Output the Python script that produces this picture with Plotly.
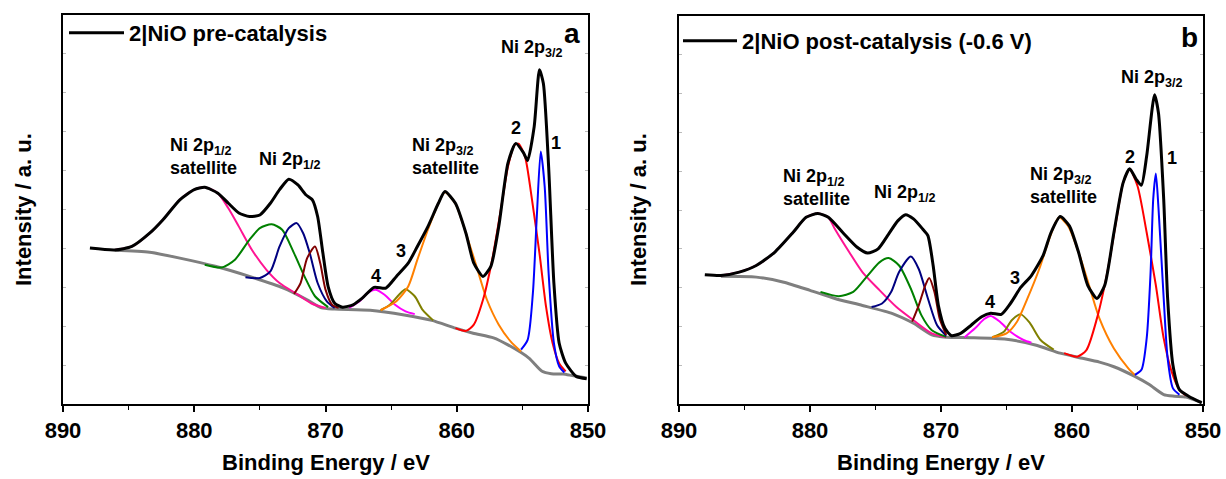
import plotly.graph_objects as go

# ---------------- Panel a : 2|NiO pre-catalysis ----------------
A_TOTAL_E = [887.95, 886.06, 884.75, 883.4, 882.4, 881.1, 880.0, 879.2, 878.2, 877.4, 876.6, 875.8, 875.0,
             874.2, 873.5, 872.8, 872.1, 871.5, 871.0, 870.6, 870.2, 869.8, 869.3, 868.7, 867.9, 867.2,
             866.3, 865.4, 864.6, 863.7, 863.0, 862.2, 861.4, 860.9, 860.1, 859.3, 858.7, 858.0, 857.4,
             856.8, 856.1, 855.5, 854.9, 854.6, 854.1, 853.7, 853.4, 853.0, 852.6, 852.2, 851.7, 850.9, 850.1]
A_TOTAL_I = [40.1, 39.6, 40.5, 43.9, 47.3, 52.5, 55.1, 55.7, 54.2, 51.6, 49.1, 48.2, 48.6,
             51.6, 55.1, 57.8, 56.3, 53.8, 52.5, 48.2, 38.8, 30.2, 25.9, 24.9, 25.5, 27.2,
             30.0, 29.8, 32.8, 36.2, 40.5, 45.6, 51.6, 54.6, 51.6, 43.9, 36.2, 32.8, 35.4,
             45.6, 61.9, 67.0, 64.5, 62.6, 71.3, 85.9, 82.4, 61.0, 31.1, 15.7, 10.5, 7.1, 6.5]
A_BG_E = [886.06, 883.4, 881.1, 878.4, 875.8, 873.2, 871.4, 870.3, 869.3, 866.6, 864.0, 861.9, 860.1,
          858.75, 857.2, 856.1, 854.5, 853.5, 852.8, 851.9, 851.2, 850.1]
A_BG_I = [39.5, 39.0, 37.5, 35.4, 32.8, 29.8, 26.8, 24.7, 24.4, 24.1, 22.9, 21.5, 19.5,
          18.2, 17.0, 15.2, 11.8, 8.4, 7.8, 7.7, 7.3, 6.7]
A_SAT12_E = [886.06, 884.75, 883.4, 882.4, 881.1, 880.0, 879.2, 878.2, 877.4, 876.6, 875.6, 874.5, 873.5, 872.1, 871.1, 870.0]
A_SAT12_I = [39.6, 40.5, 43.9, 47.3, 52.5, 55.1, 55.7, 54.2, 50.3, 45.6, 39.6, 34.5, 31.1, 28.1, 25.9, 24.7]
A_P12A_E = [879.2, 877.9, 876.9, 875.8, 875.0, 874.1, 873.3, 872.4, 871.6, 870.8, 869.8]
A_P12A_I = [35.8, 35.1, 37.1, 42.2, 45.2, 46.2, 44.8, 38.8, 32.8, 27.7, 24.9]
A_P12B_E = [876.1, 875.0, 874.2, 873.5, 872.8, 872.2, 871.7, 871.2, 870.6, 869.9, 869.3]
A_P12B_I = [32.6, 32.4, 34.1, 40.5, 45.2, 46.5, 43.9, 38.8, 31.1, 26.4, 24.7]
A_P12C_E = [872.4, 871.9, 871.4, 870.8, 870.4, 870.0, 869.5, 869.0]
A_P12C_I = [28.3, 31.1, 37.5, 40.5, 36.2, 29.4, 25.5, 24.7]
A_P4_E = [868.2, 867.4, 866.8, 866.2, 865.5, 864.7, 863.9, 863.2]
A_P4_I = [24.7, 26.4, 28.5, 29.4, 28.1, 25.5, 23.8, 23.1]
A_P3_E = [865.8, 865.1, 864.4, 863.9, 863.2, 862.6, 861.8]
A_P3_I = [24.1, 25.5, 28.1, 29.5, 27.7, 24.2, 21.5]
A_SAT32_E = [865.8, 864.6, 863.7, 863.0, 862.2, 861.4, 860.9, 860.1, 859.3, 858.5, 857.7, 856.8, 855.9, 855.1]
A_SAT32_I = [24.1, 26.4, 30.2, 37.1, 44.8, 51.6, 54.4, 51.5, 43.9, 35.4, 26.8, 20.4, 16.1, 13.5]
A_P2_E = [860.1, 859.3, 858.7, 858.0, 857.3, 856.6, 856.1, 855.6, 855.3, 854.8, 854.3, 853.7, 853.2, 852.7, 852.2, 851.7]
A_P2_I = [19.5, 18.8, 20.4, 26.8, 37.1, 50.8, 61.0, 66.6, 66.9, 63.6, 53.3, 38.8, 25.1, 15.7, 10.5, 8.4]
A_P1_E = [855.1, 854.6, 854.2, 853.9, 853.6, 853.3, 853.0, 852.6, 852.2, 851.8]
A_P1_I = [14.0, 16.5, 28.5, 48.2, 64.9, 55.9, 33.6, 15.7, 9.7, 8.1]

# ---------------- Panel b : 2|NiO post-catalysis (-0.6 V) ----------------
B_TOTAL_E = [888.03, 886.8, 885.4, 884.1, 882.7, 881.3, 880.3, 879.4, 878.6, 877.5, 876.4, 875.6, 874.8,
             874.0, 873.3, 872.7, 872.1, 871.4, 871.0, 870.6, 870.2, 869.7, 869.2, 868.5, 867.7, 866.9,
             866.2, 865.4, 864.7, 863.9, 863.1, 862.2, 861.6, 860.9, 860.2, 859.5, 858.8, 858.1, 857.5,
             856.8, 856.1, 855.6, 855.1, 854.7, 854.3, 853.7, 853.4, 853.0, 852.7, 852.3, 851.8, 851.1, 850.1]
B_TOTAL_I = [33.3, 33.1, 34.0, 35.7, 39.1, 44.2, 48.1, 49.1, 48.1, 44.2, 40.4, 38.9, 40.0,
             43.8, 47.2, 48.8, 47.7, 45.1, 43.4, 35.7, 25.4, 19.5, 17.6, 18.2, 20.3, 22.5,
             23.4, 23.1, 25.9, 30.1, 33.1, 38.3, 44.2, 48.3, 45.9, 39.1, 30.6, 27.2, 30.6,
             44.2, 57.0, 60.6, 57.9, 56.4, 63.9, 79.7, 75.0, 52.8, 27.2, 10.1, 3.7, 2.0, 0.3]
B_BG_E = [886.8, 884.1, 882.0, 880.0, 878.1, 876.0, 873.7, 872.1, 870.7, 869.6, 867.7, 865.0, 862.8,
          860.9, 859.5, 857.9, 856.8, 855.2, 854.1, 853.0, 852.2, 851.3, 850.1]
B_BG_I = [32.9, 32.7, 31.4, 29.3, 27.2, 25.4, 23.3, 20.8, 17.8, 17.2, 17.1, 16.7, 15.2,
          13.1, 12.0, 10.8, 9.6, 7.1, 5.0, 2.4, 2.0, 1.8, 0.4]
B_SAT12_E = [886.8, 885.4, 884.1, 882.7, 881.3, 880.3, 879.4, 878.6, 878.1, 877.0, 876.0, 874.8, 873.4, 872.1, 870.7, 869.6]
B_SAT12_I = [33.1, 34.0, 35.7, 39.1, 44.2, 48.1, 49.1, 48.1, 45.1, 39.1, 34.0, 29.7, 25.0, 21.6, 18.2, 17.2]
B_P12A_E = [879.2, 877.8, 876.7, 875.6, 874.7, 874.0, 873.2, 872.3, 871.5, 870.7, 869.6]
B_P12A_I = [28.9, 27.8, 28.9, 33.1, 36.5, 37.6, 35.7, 29.7, 22.9, 19.0, 17.3]
B_P12B_E = [875.3, 874.5, 873.8, 873.2, 872.3, 871.7, 871.0, 870.3, 869.6]
B_P12B_I = [25.0, 25.9, 28.9, 34.0, 38.0, 34.8, 27.2, 20.3, 17.6]
B_P12C_E = [872.2, 871.7, 871.2, 870.9, 870.5, 870.1, 869.6]
B_P12C_I = [21.2, 25.4, 30.6, 32.5, 28.9, 22.0, 17.8]
B_P4_E = [868.2, 867.4, 866.7, 866.2, 865.5, 864.7, 863.7, 863.1]
B_P4_I = [17.2, 19.5, 21.9, 22.7, 21.2, 18.6, 16.5, 15.8]
B_P3_E = [866.1, 865.2, 864.6, 863.9, 863.2, 862.4, 861.4]
B_P3_I = [17.2, 18.6, 21.6, 23.1, 20.8, 16.5, 14.0]
B_SAT32_E = [866.1, 865.0, 864.2, 863.4, 862.5, 861.7, 861.0, 860.3, 859.5, 858.7, 857.9, 856.8, 855.7, 855.2]
B_SAT32_I = [17.2, 18.2, 21.2, 27.2, 34.8, 42.9, 48.1, 45.9, 39.1, 30.6, 22.0, 14.3, 9.2, 7.5]
B_P2_E = [860.6, 859.6, 858.9, 858.1, 857.3, 856.6, 856.1, 855.6, 855.0, 854.3, 853.6, 853.0, 852.4, 851.8, 851.3]
B_P2_I = [13.1, 12.2, 13.9, 22.0, 34.0, 47.7, 57.0, 60.5, 56.2, 44.2, 30.6, 16.9, 8.4, 3.7, 2.2]
B_P1_E = [855.2, 854.7, 854.3, 854.0, 853.8, 853.6, 853.4, 853.0, 852.7, 852.3, 851.8]
B_P1_I = [7.5, 8.8, 16.9, 34.0, 52.8, 59.4, 50.6, 27.2, 11.8, 4.1, 2.4]

LEGEND_A = "2|NiO pre-catalysis"
LEGEND_B = "2|NiO post-catalysis (-0.6 V)"
X_TICKS = [890, 880, 870, 860, 850]
X_TITLE = "Binding Energy / eV"
Y_TITLE = "Intensity / a. u."

FONT = "Liberation Sans, Arial, sans-serif"

fig = go.Figure()


def add_panel(xa, ya, data, legend_text, legend_id):
    bg, comps, total = data
    fig.add_trace(go.Scatter(x=bg[0], y=bg[1], mode="lines", xaxis=xa, yaxis=ya, showlegend=False,
                             line=dict(color="#7f7f7f", width=3, shape="spline", smoothing=0.6)))
    for (ex, iy, col) in comps:
        fig.add_trace(go.Scatter(x=ex, y=iy, mode="lines", xaxis=xa, yaxis=ya, showlegend=False,
                                 line=dict(color=col, width=2, shape="spline", smoothing=0.7)))
    fig.add_trace(go.Scatter(x=total[0], y=total[1], mode="lines", xaxis=xa, yaxis=ya,
                             name=legend_text, legend=legend_id, showlegend=True,
                             line=dict(color="black", width=3, shape="spline", smoothing=0.6)))


add_panel("x", "y",
          ((A_BG_E, A_BG_I),
           [(A_SAT12_E, A_SAT12_I, "#ff1493"), (A_P12A_E, A_P12A_I, "#008000"),
            (A_P12B_E, A_P12B_I, "#000080"), (A_P12C_E, A_P12C_I, "#800000"),
            (A_P4_E, A_P4_I, "#ff00ff"), (A_P3_E, A_P3_I, "#808000"),
            (A_SAT32_E, A_SAT32_I, "#ff8000"), (A_P2_E, A_P2_I, "#ff0000"),
            (A_P1_E, A_P1_I, "#0000ff")],
           (A_TOTAL_E, A_TOTAL_I)), LEGEND_A, "legend")
add_panel("x2", "y2",
          ((B_BG_E, B_BG_I),
           [(B_SAT12_E, B_SAT12_I, "#ff1493"), (B_P12A_E, B_P12A_I, "#008000"),
            (B_P12B_E, B_P12B_I, "#000080"), (B_P12C_E, B_P12C_I, "#800000"),
            (B_P4_E, B_P4_I, "#ff00ff"), (B_P3_E, B_P3_I, "#808000"),
            (B_SAT32_E, B_SAT32_I, "#ff8000"), (B_P2_E, B_P2_I, "#ff0000"),
            (B_P1_E, B_P1_I, "#0000ff")],
           (B_TOTAL_E, B_TOTAL_I)), LEGEND_B, "legend2")

W, H = 1226, 479
xa_common = dict(range=[890, 850], tickvals=X_TICKS, ticks="outside", ticklen=6, tickwidth=1.5,
                 tickcolor="black", showline=True, linecolor="black", linewidth=1.5, mirror=True,
                 showgrid=False, zeroline=False, automargin=False,
                 tickfont=dict(family=FONT, size=22, color="black", weight="bold"),
                 minor=dict(dtick=5, tick0=850, ticks="outside", ticklen=4, tickwidth=1.2, tickcolor="black"))
ya_common = dict(range=[0, 100], dtick=10, ticks="inside", ticklen=3, tickwidth=1, tickcolor="#bbbbbb",
                 showticklabels=False, showline=True, linecolor="black", linewidth=1.5, mirror="ticks",
                 showgrid=False, zeroline=False, automargin=False)

fig.update_layout(
    width=W, height=H, margin=dict(l=0, r=0, t=0, b=0, autoexpand=False),
    paper_bgcolor="white", plot_bgcolor="white",
    xaxis=dict(domain=[63 / W, 588 / W], anchor="y", **xa_common),
    yaxis=dict(domain=[1 - 404 / H, 1 - 15 / H], anchor="x", **ya_common),
    xaxis2=dict(domain=[679 / W, 1203 / W], anchor="y2", **xa_common),
    yaxis2=dict(domain=[1 - 404 / H, 1 - 16 / H], anchor="x2", **ya_common),
    legend=dict(x=64 / W, y=1 - 12 / H, xanchor="left", yanchor="top", bgcolor="rgba(0,0,0,0)",
                font=dict(family=FONT, size=22, color="black", weight="bold"), itemwidth=55),
    legend2=dict(x=678 / W, y=1 - 20 / H, xanchor="left", yanchor="top", bgcolor="rgba(0,0,0,0)",
                 font=dict(family=FONT, size=22, color="black", weight="bold"), itemwidth=54),
)

lab = dict(family=FONT, size=18, color="black", weight="bold")
ann = []


def a(xr, yr, x, y, text, xanchor="center", align="center", size=None):
    f = dict(lab)
    if size:
        f["size"] = size
    ann.append(dict(xref=xr, yref=yr, x=x, y=y, text=text, showarrow=False, xanchor=xanchor,
                    yanchor="middle", align=align, font=f))


S32 = "Ni 2p<sub>3/2</sub>"
S12 = "Ni 2p<sub>1/2</sub>"
# panel a labels
a("x", "y", 854.3, 91.3, S32)
a("x", "y", 852.45, 67.1, "1")
a("x", "y", 855.5, 71.0, "2")
a("x", "y", 863.6, 63.5, S32 + "<br>satellite", xanchor="left", align="left")
a("x", "y", 864.25, 39.3, "3")
a("x", "y", 866.15, 32.9, "4")
a("x", "y", 872.7, 62.5, S12)
a("x", "y", 882.0, 63.5, S12 + "<br>satellite", xanchor="left", align="left")
a("x", "y", 851.2, 95.2, "a", size=28)
# panel b labels
a("x2", "y2", 853.9, 84.0, S32)
a("x2", "y2", 852.35, 63.4, "1")
a("x2", "y2", 855.55, 63.7, "2")
a("x2", "y2", 863.35, 56.2, S32 + "<br>satellite", xanchor="left", align="left")
a("x2", "y2", 864.35, 32.5, "3")
a("x2", "y2", 866.25, 26.3, "4")
a("x2", "y2", 872.75, 54.2, S12)
a("x2", "y2", 882.2, 55.9, S12 + "<br>satellite", xanchor="left", align="left")
a("x2", "y2", 851.0, 94.4, "b", size=28)

# axis titles
tf = dict(family=FONT, size=22, color="black", weight="bold")
for cx in (326, 941):
    ann.append(dict(xref="paper", yref="paper", x=cx / W, y=1 - 462 / H, text=X_TITLE, showarrow=False,
                    xanchor="center", yanchor="middle", font=tf))
for cx in (23, 638):
    ann.append(dict(xref="paper", yref="paper", x=cx / W, y=1 - 210 / H, text=Y_TITLE, showarrow=False,
                    xanchor="center", yanchor="middle", textangle=-90, font=tf))
fig.update_layout(annotations=ann)

fig.write_html("out.html", config={"displayModeBar": False},
               post_script="document.body.style.margin='0';document.body.style.overflow='hidden';")
